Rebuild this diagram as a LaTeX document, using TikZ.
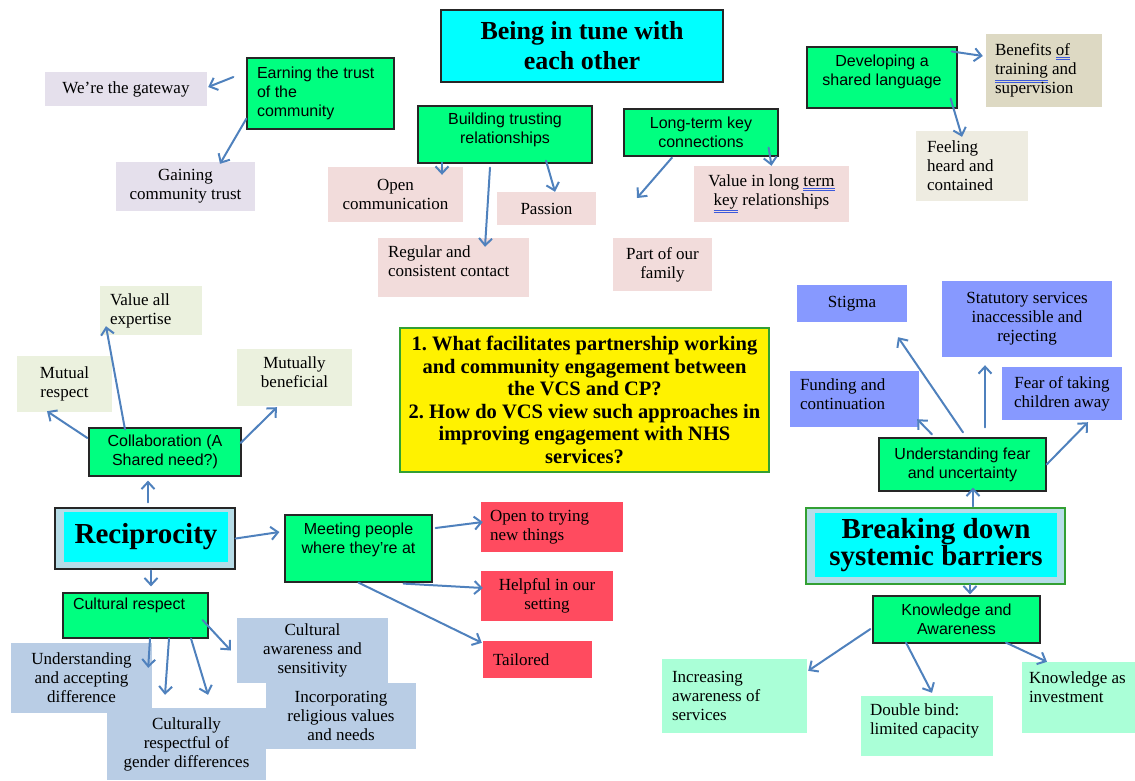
\documentclass[tikz,border=0pt]{standalone}
\usepackage{fontspec}
\setmainfont{Liberation Serif}
\setsansfont{Liberation Sans}
\usetikzlibrary{arrows.meta}
\frenchspacing

\definecolor{themegreen}{RGB}{0,255,128}
\definecolor{hubcyan}{RGB}{0,255,255}
\definecolor{hubframe}{RGB}{183,221,232}
\definecolor{lavender}{RGB}{229,224,236}
\definecolor{rosepink}{RGB}{242,220,219}
\definecolor{khaki}{RGB}{221,217,195}
\definecolor{cream}{RGB}{238,236,225}
\definecolor{sage}{RGB}{235,241,222}
\definecolor{steel}{RGB}{185,205,229}
\definecolor{coral}{RGB}{255,75,95}
\definecolor{periwinkle}{RGB}{135,153,255}
\definecolor{mint}{RGB}{170,255,215}
\definecolor{questgreen}{RGB}{51,160,51}
\definecolor{linkblue}{RGB}{79,129,189}
\definecolor{spellblue}{RGB}{60,90,220}

% double blue underline of the spell checker
\newcommand{\spellmark}[1]{{\color{spellblue}\underline{\underline{\color{black}#1}}}}

\tikzset{
  theme/.style={draw=black!85, line width=1.2pt, fill=themegreen, font=\sffamily\fontsize{16}{19}\selectfont, align=center, inner sep=3pt},
  leaf/.style={fill=#1, font=\fontsize{17}{19}\selectfont, align=center, inner sep=3pt},
  dims/.style 2 args={minimum width=#1pt, minimum height=#2pt},
  lefttext/.style={align=flush left, text width=#1pt},
  hub/.style={fill=hubcyan, font=\bfseries\fontsize{29}{27}\selectfont, align=center, inner sep=0pt},
  link/.style={draw=linkblue, line width=2pt, line cap=round, -{Straight Barb[length=7pt,width=13pt]}}
}

\begin{document}
\begin{tikzpicture}[x=1pt, y=-1pt]
            \useasboundingbox (0,0) rectangle (1135,780);

            % Draw the being in tune theme
            \node[draw=black!85, line width=1.2pt, fill=hubcyan, dims={282}{72}, font=\bfseries\fontsize{26}{30}\selectfont, align=center] (tune) at (582,46) {Being in tune with\\each other};

            \node[theme, lefttext=127, inner xsep=10pt, minimum height=71pt] (earn) at (320.5,93.5) {Earning the trust\\of the\\community};
            \node[leaf=lavender, dims={162}{34}] (gate) at (126,89) {We're the gateway};
            \node[leaf=lavender, dims={139}{49}] (gain) at (185.5,186.5) {Gaining\\community trust};

            \node[theme, dims={174}{57}] (build) at (505,134.5) {Building trusting\\relationships\\[-7pt]\mbox{}};
            \node[leaf=rosepink, dims={135}{55}] (open) at (395.5,194.5) {Open\\communication};
            \node[leaf=rosepink, dims={99}{33}] (passion) at (546.5,208.5) {Passion};
            \node[leaf=rosepink, lefttext=131, inner xsep=10pt, minimum height=59pt] (regular) at (453.5,267.5) {Regular and\\consistent contact\\[-7pt]\mbox{}};

            \node[theme, dims={154}{47}] (longterm) at (701,132.5) {Long-term key\\connections};
            \node[leaf=rosepink, dims={155}{56}] (longval) at (771.5,194) {Value in long \spellmark{term}\\\spellmark{key} relationships};
            \node[leaf=rosepink, dims={99}{53}] (family) at (662.5,264.5) {Part of our\\family};
            \coordinate (familyhint) at (637,198);

            \node[theme, dims={150}{61}] (shared) at (882,77.5) {Developing a\\shared language\\[-4pt]\mbox{}};
            \node[leaf=khaki, lefttext=98, inner xsep=9pt, minimum height=73pt] (training) at (1044,70.5) {Benefits \spellmark{of}\\\spellmark{training} and\\supervision};
            \node[leaf=cream, lefttext=90, inner xsep=11pt, minimum height=70pt] (heard) at (972,166) {Feeling\\heard and\\contained};

            % Draw the research questions
            \node[draw=questgreen, line width=1.2pt, fill=yellow, dims={369}{144}, font=\bfseries\fontsize{20.5}{22.5}\selectfont, align=center, inner xsep=2pt] (question) at (584.5,400) {1. What facilitates partnership working\\and community engagement between\\the VCS and CP?\\2. How do VCS view such approaches in\\improving engagement with NHS\\services?};

            % Draw the reciprocity theme
            \node[draw=black!85, line width=1.2pt, fill=hubframe, dims={180}{61}] (recip) at (145,538.5) {};
            \node[hub, dims={164}{50}] (recipin) at (146,537) {Reciprocity};

            \node[theme, dims={152}{48}] (collab) at (165,452) {Collaboration (A\\Shared need?)};
            \node[leaf=sage, lefttext=82, inner xsep=10pt, minimum height=49pt] (expertise) at (151,310.5) {Value all\\expertise};
            \node[leaf=sage, dims={95}{56}] (respect) at (64.5,384) {Mutual\\respect};
            \node[leaf=sage, dims={115}{57}] (benefit) at (294.5,377.5) {Mutually\\beneficial\\[-9pt]\mbox{}};

            \node[theme, dims={147}{67}] (meeting) at (358.5,548.5) {Meeting people\\where they're at\\[1pt]\mbox{}};
            \node[leaf=coral, lefttext=124, inner xsep=9pt, minimum height=50pt] (trying) at (552,527) {Open to trying\\new things};
            \node[leaf=coral, dims={132}{50}] (setting) at (547,596) {Helpful in our\\setting};
            \node[leaf=coral, lefttext=89, inner xsep=10pt, minimum height=37pt] (tailored) at (537.5,659.5) {Tailored};

            \node[theme, lefttext=125, inner xsep=10pt, minimum height=45pt] (cultural) at (135.5,615.5) {Cultural respect\\[4pt]\mbox{}};
            \node[leaf=steel, dims={141}{70}] (difference) at (81.5,678) {Understanding\\and accepting\\difference};
            \node[leaf=steel, dims={151}{65}] (sensitivity) at (312.5,650.5) {Cultural\\awareness and\\sensitivity};
            \node[leaf=steel, dims={150}{66}] (religion) at (341,716) {Incorporating\\religious values\\and needs};
            \node[leaf=steel, dims={159}{72}] (gender) at (186.5,744) {Culturally\\respectful of\\gender differences};

            % Draw the breaking down theme
            \node[leaf=periwinkle, dims={110}{37}] (stigma) at (852,303.5) {Stigma};
            \node[leaf=periwinkle, dims={170}{76}] (statutory) at (1027,319) {Statutory services\\inaccessible and\\rejecting};
            \node[leaf=periwinkle, lefttext=109, inner xsep=10pt, minimum height=56pt] (funding) at (854.5,399) {Funding and\\continuation\\[-10pt]\mbox{}};
            \node[leaf=periwinkle, dims={120}{53}] (children) at (1062,393.5) {Fear of taking\\children away};
            \node[theme, dims={167}{53}] (fear) at (962.5,464.5) {Understanding fear\\and uncertainty};

            \node[draw=questgreen, line width=1.2pt, fill=hubframe, dims={259}{76}] (barriers) at (935.5,546) {};
            \node[hub, dims={242}{64}] (barriersin) at (936,545) {Breaking down\\systemic barriers};

            \node[theme, dims={167}{47}] (knowledge) at (956.5,619.5) {Knowledge and\\Awareness};
            \node[leaf=mint, lefttext=125, inner xsep=10pt, minimum height=74pt] (services) at (734.5,696) {Increasing\\awareness of\\services};
            \node[leaf=mint, lefttext=114, inner xsep=9pt, minimum height=60pt] (bind) at (927,726) {Double bind:\\limited capacity\\[-6pt]\mbox{}};
            \node[leaf=mint, lefttext=99, inner xsep=7pt, minimum height=71pt] (investment) at (1078.5,697.5) {Knowledge as\\investment\\[1pt]\mbox{}};

            % Draw the links of being in tune
            \draw[link] ([xshift=-13pt,yshift=16.5pt]earn.west) -- ([xshift=1pt,yshift=2pt]gate.east);
            \draw[link] ([yshift=11pt]earn.south west) -- ([xshift=34.5pt,yshift=-2pt]gain.north);
            \draw[link] ([xshift=-63pt,yshift=1pt]build.south) -- ([xshift=46.5pt,yshift=-8pt]open.north);
            \draw[link] ([xshift=-15pt,yshift=-4pt]build.south) -- ([xshift=31.5pt,yshift=-9pt]regular.north);
            \draw[link] ([xshift=41pt,yshift=3pt]build.south) -- ([xshift=8.5pt]passion.north);
            \draw[link] ([xshift=-29pt,yshift=-1pt]longterm.south) -- (familyhint);
            \draw[link] ([xshift=-10pt,yshift=9pt]longterm.south east) -- (longval.north);
            \draw[link] ([xshift=-6pt,yshift=-5pt]shared.north east) -- ([xshift=-3pt,yshift=14.5pt]training.west);
            \draw[link] ([xshift=-7pt,yshift=10pt]shared.south east) -- ([xshift=-10pt,yshift=-6pt]heard.north);

            % Draw the links of reciprocity
            \draw[link] ([xshift=3pt,yshift=5pt]recip.north) -- ([xshift=-17pt,yshift=-4pt]collab.south);
            \draw[link] ([xshift=-40pt,yshift=-2pt]collab.north) -- ([xshift=-45pt,yshift=9pt]expertise.south);
            \draw[link] ([xshift=-1pt,yshift=14pt]collab.west) -- ([xshift=-17.5pt,yshift=1pt]respect.south);
            \draw[link] ([xshift=-1pt,yshift=9pt]collab.east) -- ([xshift=-17.5pt,yshift=-1pt]benefit.south);
            \draw[link] ([xshift=6pt,yshift=-1pt]recip.south) -- ([xshift=15.5pt,yshift=6pt]cultural.north);
            \draw[link] (recip.east) -- ([xshift=-5pt,yshift=16.5pt]meeting.west);
            \draw[link] ([xshift=3pt,yshift=20.5pt]meeting.east) -- ([xshift=2pt,yshift=5pt]trying.west);
            \draw[link] ([xshift=-29pt,yshift=-1pt]meeting.south east) -- ([xshift=2pt,yshift=8pt]setting.west);
            \draw[link] (meeting.south) -- ([xshift=-1pt,yshift=-2pt]tailored.north west);
            \draw[link] ([xshift=14.5pt]cultural.south) -- ([xshift=-4pt,yshift=-25pt]difference.north east);
            \draw[link] ([xshift=33.5pt]cultural.south) -- ([xshift=-21.5pt,yshift=13pt]gender.north);
            \draw[link] ([xshift=55.5pt]cultural.south) -- ([xshift=21.5pt,yshift=13pt]gender.north);
            \draw[link] ([xshift=-6pt,yshift=-4.5pt]cultural.east) -- ([xshift=-6pt]sensitivity.west);

            % Draw the links of breaking down
            \draw[link] ([xshift=37.5pt,yshift=1pt]barriers.north) -- ([xshift=10.5pt,yshift=4pt]fear.south);
            \draw[link] ([xshift=-30.5pt,yshift=3pt]fear.north) -- ([xshift=-2pt,yshift=8pt]funding.south east);
            \draw[link] ([xshift=0.5pt,yshift=5pt]fear.north) -- ([xshift=46pt,yshift=-15pt]stigma.south);
            \draw[link] ([xshift=22.5pt,yshift=10pt]fear.north) -- ([xshift=-42pt,yshift=-8pt]statutory.south);
            \draw[link] (fear.east) -- ([xshift=26pt,yshift=-2pt]children.south);
            \draw[link] ([xshift=34.5pt]barriers.south) -- ([xshift=13.5pt,yshift=1pt]knowledge.north);
            \draw[link] ([xshift=-2pt,yshift=-9.5pt]knowledge.west) -- ([xshift=1pt,yshift=-12pt]services.north east);
            \draw[link] ([xshift=-50.5pt,yshift=1pt]knowledge.south) -- ([xshift=5pt,yshift=3pt]bind.north);
            \draw[link] ([xshift=49.5pt,yshift=1pt]knowledge.south) -- ([xshift=-31.5pt]investment.north);
        \end{tikzpicture}
\end{document}
